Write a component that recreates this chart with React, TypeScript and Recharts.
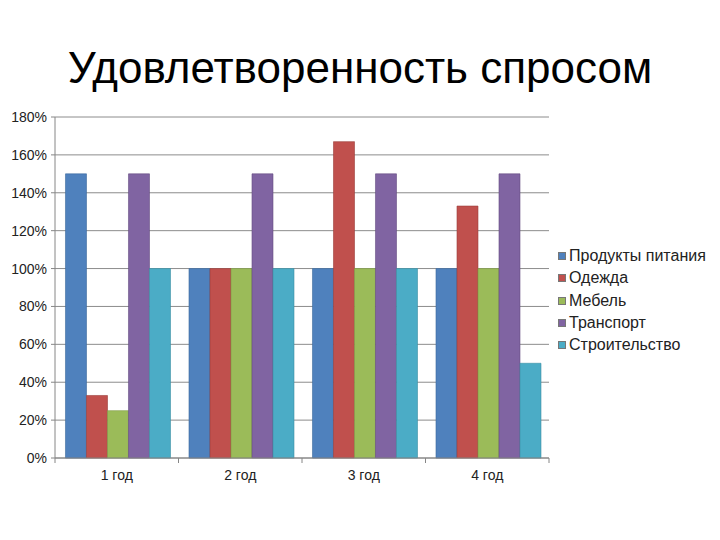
import React from "react";
import { BarChart, Bar, XAxis, YAxis, CartesianGrid, Legend } from "recharts";

const years = ["1 год", "2 год", "3 год", "4 год"];
const produkty = [150, 100, 100, 100];
const odezhda = [33, 100, 167, 133];
const mebel = [25, 100, 100, 100];
const transport = [150, 150, 150, 150];
const stroitelstvo = [100, 100, 100, 50];
const yTicks = [0, 20, 40, 60, 80, 100, 120, 140, 160, 180];

const series = [
  { key: "produkty", name: "Продукты питания", fill: "#4F81BD", stroke: "#3d6a9e" },
  { key: "odezhda", name: "Одежда", fill: "#C0504D", stroke: "#9c3e3b" },
  { key: "mebel", name: "Мебель", fill: "#9BBB59", stroke: "#7f9b47" },
  { key: "transport", name: "Транспорт", fill: "#8064A2", stroke: "#654e82" },
  { key: "stroitelstvo", name: "Строительство", fill: "#4BACC6", stroke: "#3a8ea5" },
];

const data = years.map((y, i) => ({
  year: y,
  produkty: produkty[i],
  odezhda: odezhda[i],
  mebel: mebel[i],
  transport: transport[i],
  stroitelstvo: stroitelstvo[i],
}));

const FONT = "'Liberation Sans', Arial, sans-serif";

// tick marks sit on category boundaries, like the office chart
function YearTick(props: any) {
  const { x, y, payload, index } = props;
  const half = payload.offset || 0;
  return (
    <g>
      <line x1={x - half} x2={x - half} y1={y - 8} y2={y - 3} stroke="#868686" />
      {index === years.length - 1 && (
        <line x1={x + half} x2={x + half} y1={y - 8} y2={y - 3} stroke="#868686" />
      )}
      <text x={x} y={y + 14} textAnchor="middle" fontSize={14} fill="#222" fontFamily={FONT}>
        {payload.value}
      </text>
    </g>
  );
}

// legend keeps the series order
function LegendBox() {
  return (
    <div style={{ fontFamily: FONT, fontSize: 16, color: "#222" }}>
      {series.map((s) => (
        <div key={s.key} style={{ display: "flex", alignItems: "center", height: 22.3 }}>
          <span style={{ width: 6, height: 6, background: s.fill, marginRight: 3, border: "0.5px solid #777" }} />
          <span>{s.name}</span>
        </div>
      ))}
    </div>
  );
}

export default function App() {
  return (
    <div style={{ position: "absolute", left: 0, top: 0, width: 720, height: 540, background: "#fff" }}>
      <div
        style={{
          position: "absolute",
          top: 43,
          left: 0,
          width: 720,
          textAlign: "center",
          fontFamily: FONT,
          fontSize: 44,
          color: "#000",
        }}
      >
        Удовлетворенность спросом
      </div>
      <BarChart
        width={720}
        height={540}
        data={data}
        margin={{ top: 117, right: 171, bottom: 52, left: 10 }}
        barCategoryGap="8.5%"
        barGap={0}
      >
        <CartesianGrid vertical={false} stroke="#8c8c8c" />
        <XAxis
          dataKey="year"
          tick={<YearTick />}
          tickLine={false}
          axisLine={{ stroke: "#868686" }}
          interval={0}
        />
        <YAxis
          width={45}
          domain={[0, 180]}
          ticks={yTicks}
          interval={0}
          tickFormatter={(v) => `${v}%`}
          tick={{ fontSize: 14, fill: "#222", fontFamily: FONT }}
          tickSize={4}
          tickMargin={4}
          tickLine={{ stroke: "#868686" }}
          axisLine={{ stroke: "#868686" }}
        />
        <Legend
          layout="vertical"
          align="center"
          verticalAlign="middle"
          wrapperStyle={{ left: 558, top: 245, width: 162 }}
          content={<LegendBox />}
        />
        {series.map((s) => (
          <Bar
            key={s.key}
            dataKey={s.key}
            name={s.name}
            fill={s.fill}
            stroke={s.stroke}
            strokeWidth={0.6}
            isAnimationActive={false}
          />
        ))}
      </BarChart>
    </div>
  );
}
